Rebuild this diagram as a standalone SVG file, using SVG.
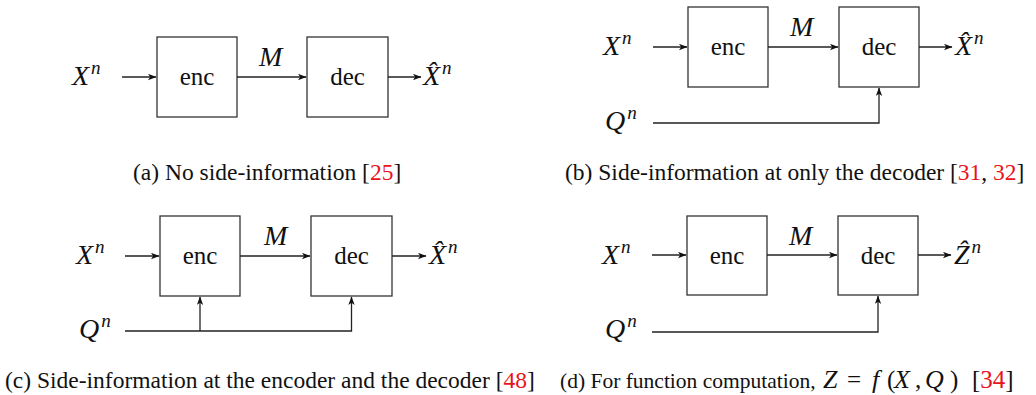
<svg xmlns="http://www.w3.org/2000/svg" width="1036" height="395" viewBox="0 0 1036 395">
<defs>
<marker id="ah" markerWidth="9" markerHeight="7" refX="8" refY="3.5" orient="auto" markerUnits="userSpaceOnUse">
<path d="M0,0.3 L8.5,3.5 L0,6.7 L2.2,3.5 Z" fill="#111"/>
</marker>
</defs>
<style>
.box{fill:#fff;stroke:#333;stroke-width:1.3}
.ar{fill:none;stroke:#222;stroke-width:1.3;marker-end:url(#ah)}
.lbl{font-family:"Liberation Serif","Times New Roman",Tinos,"DejaVu Serif",serif;font-size:25px;fill:#111;text-anchor:middle}
.m{font-family:"Liberation Serif","Times New Roman",Tinos,"DejaVu Serif",serif;font-size:28px;font-style:italic;fill:#111}
.sup{font-size:19px}
.cap{font-family:"Liberation Serif","Times New Roman",Tinos,"DejaVu Serif",serif;font-size:23.5px;fill:#111}
.capd{font-size:21.5px}
.ref{fill:#e8141b}
.mi{font-style:italic;font-size:26px}
.mu{font-size:25px}
</style>

<!-- Panel (a) -->
<g id="a-enc"><rect class="box" x="157" y="37" width="80" height="80"/><text class="lbl" x="197" y="85">enc</text></g>
<g id="a-dec"><rect class="box" x="307" y="37" width="81" height="80"/><text class="lbl" x="347.5" y="85">dec</text></g>
<g id="a-labels">
<text class="m" x="72" y="85">X<tspan class="sup" dx="2" dy="-11">n</tspan></text>
<text class="m" x="259" y="66">M</text>
<text class="m" x="423" y="85">X̂<tspan class="sup" dx="2" dy="-11">n</tspan></text>
</g>
<g id="a-connectors">
<line class="ar" x1="122" y1="77" x2="156" y2="77"/>
<line class="ar" x1="237" y1="77" x2="306" y2="77"/>
<line class="ar" x1="388" y1="77" x2="421" y2="77"/>
</g>
<text class="cap" x="133" y="180">(a) No side-information [<tspan class="ref">25</tspan>]</text>

<!-- Panel (b) -->
<g id="b-enc"><rect class="box" x="688" y="7" width="80" height="80"/><text class="lbl" x="728" y="55">enc</text></g>
<g id="b-dec"><rect class="box" x="839" y="7" width="80" height="80"/><text class="lbl" x="879" y="55">dec</text></g>
<g id="b-labels">
<text class="m" x="603" y="55">X<tspan class="sup" dx="2" dy="-11">n</tspan></text>
<text class="m" x="790" y="36">M</text>
<text class="m" x="955" y="55">X̂<tspan class="sup" dx="2" dy="-11">n</tspan></text>
<text class="m" x="605" y="130">Q<tspan class="sup" dx="2" dy="-11">n</tspan></text>
</g>
<g id="b-connectors">
<line class="ar" x1="653" y1="47" x2="687" y2="47"/>
<line class="ar" x1="768" y1="47" x2="838" y2="47"/>
<line class="ar" x1="919" y1="47" x2="952" y2="47"/>
<path class="ar" d="M653,123 H879 V88"/>
</g>
<text class="cap" x="565" y="180">(b) Side-information at only the decoder [<tspan class="ref">31</tspan>, <tspan class="ref">32</tspan>]</text>

<!-- Panel (c) -->
<g id="c-enc"><rect class="box" x="160" y="216" width="80" height="80"/><text class="lbl" x="200" y="264">enc</text></g>
<g id="c-dec"><rect class="box" x="311" y="216" width="81" height="80"/><text class="lbl" x="351.5" y="264">dec</text></g>
<g id="c-labels">
<text class="m" x="76" y="264">X<tspan class="sup" dx="2" dy="-11">n</tspan></text>
<text class="m" x="264" y="245">M</text>
<text class="m" x="429" y="264">X̂<tspan class="sup" dx="2" dy="-11">n</tspan></text>
<text class="m" x="79" y="338">Q<tspan class="sup" dx="2" dy="-11">n</tspan></text>
</g>
<g id="c-connectors">
<line class="ar" x1="125" y1="256" x2="159" y2="256"/>
<line class="ar" x1="240" y1="256" x2="310" y2="256"/>
<line class="ar" x1="392" y1="256" x2="426" y2="256"/>
<path class="ar" d="M125,331 H351.5 V297"/>
<path class="ar" d="M200,331 V297"/>
</g>
<text class="cap" x="5" y="388">(c) Side-information at the encoder and the decoder [<tspan class="ref">48</tspan>]</text>

<!-- Panel (d) -->
<g id="d-enc"><rect class="box" x="687" y="216" width="80" height="79"/><text class="lbl" x="727" y="264">enc</text></g>
<g id="d-dec"><rect class="box" x="838" y="216" width="80" height="79"/><text class="lbl" x="878" y="264">dec</text></g>
<g id="d-labels">
<text class="m" x="602" y="264">X<tspan class="sup" dx="2" dy="-11">n</tspan></text>
<text class="m" x="789" y="245">M</text>
<text class="m" x="954" y="264">Ẑ<tspan class="sup" dx="2" dy="-11">n</tspan></text>
<text class="m" x="605" y="338">Q<tspan class="sup" dx="2" dy="-11">n</tspan></text>
</g>
<g id="d-connectors">
<line class="ar" x1="652" y1="255" x2="686" y2="255"/>
<line class="ar" x1="767" y1="255" x2="837" y2="255"/>
<line class="ar" x1="918" y1="255" x2="951" y2="255"/>
<path class="ar" d="M652,332 H878 V296"/>
</g>
<text class="cap capd" x="560" y="388">(d) For function computation,<tspan class="mi" x="823">Z</tspan><tspan class="mu" x="847">=</tspan><tspan class="mi" x="872">f</tspan><tspan class="mu" x="887">(</tspan><tspan class="mi" x="894">X</tspan><tspan class="mu" x="915">,</tspan><tspan class="mi" x="925">Q</tspan><tspan class="mu" x="950">)</tspan><tspan class="mu" x="972">[</tspan><tspan class="mu ref">34</tspan><tspan class="mu">]</tspan></text>
</svg>
